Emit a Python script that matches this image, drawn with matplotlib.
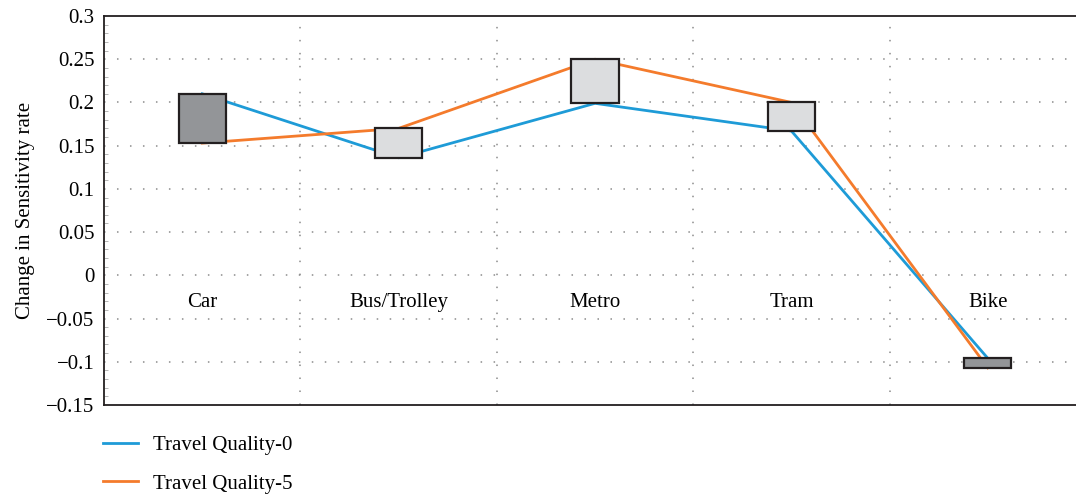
import matplotlib
matplotlib.use('Agg')
import matplotlib.pyplot as plt
from matplotlib.patches import Rectangle
from matplotlib.ticker import MultipleLocator

plt.rcParams['font.family'] = ['Liberation Serif', 'DejaVu Serif']

categories = ['Car', 'Bus/Trolley', 'Metro', 'Tram', 'Bike']
quality_0 = [0.210, 0.136, 0.199, 0.167, -0.096]
quality_5 = [0.153, 0.170, 0.250, 0.200, -0.107]
y_ticks = [0.3, 0.25, 0.2, 0.15, 0.1, 0.05, 0, -0.05, -0.1, -0.15]

blue = '#1e9bd7'
orange = '#f47b2c'
up_color = '#dcdddf'
down_color = '#939598'
edge = '#231f20'
fs = 15

fig = plt.figure(figsize=(10.76, 4.96), dpi=100)
ax = fig.add_axes([0.0967, 0.1835, 0.9126, 0.7842])

x = list(range(len(categories)))
ax.plot(x, quality_0, color=blue, lw=2.0, label='Travel Quality-0', zorder=3)
ax.plot(x, quality_5, color=orange, lw=2.0, label='Travel Quality-5', zorder=3)

# up/down bars between the two series
bar_w = 0.24
for xi, a, b in zip(x, quality_0, quality_5):
    lo, hi = min(a, b), max(a, b)
    fc = up_color if b > a else down_color
    ax.add_patch(Rectangle((xi - bar_w / 2, lo), bar_w, hi - lo,
                           facecolor=fc, edgecolor=edge, lw=1.6, zorder=4))

ax.set_xlim(-0.5, len(categories) - 0.5)
ax.set_ylim(-0.15, 0.3)
ax.set_yticks(y_ticks)
ax.set_yticklabels([f'{v:g}'.replace('-', '\u2212') for v in y_ticks], fontsize=fs)
ax.tick_params(axis='y', length=0, pad=7)
ax.yaxis.set_minor_locator(MultipleLocator(0.01))
ax.tick_params(axis='y', which='minor', direction='in', length=3, width=0.6, color='#aaaaaa')
ax.set_xticks([i + 0.5 for i in x[:-1]])
ax.set_xticklabels([])
ax.tick_params(axis='x', length=0)

# dotted grid
dots = dict(color='#8c8c8c', lw=1.1, linestyle=(0, (1, 7.5)))
for v in y_ticks[1:-1]:
    ax.axhline(v, zorder=1, **dots)
for i in x[:-1]:
    ax.axvline(i + 0.5, zorder=1, **dots)

for s in ['left', 'bottom', 'top']:
    ax.spines[s].set_linewidth(1.3)
    ax.spines[s].set_color(edge)
ax.spines['right'].set_visible(False)

# category labels sit next to the zero line
sec = ax.secondary_xaxis(1 / 3)
sec.set_xticks(x)
sec.set_xticklabels(categories, fontsize=fs)
sec.tick_params(length=0, pad=13)
sec.spines['bottom'].set_visible(False)

ax.set_ylabel('Change in Sensitivity rate', fontsize=fs, labelpad=8)

fig.legend(loc='upper left', bbox_to_anchor=(0.078, 0.16), frameon=False,
           fontsize=fs, handlelength=1.7, handletextpad=0.7, labelspacing=0.92)

fig.savefig('out.png', dpi=100)
